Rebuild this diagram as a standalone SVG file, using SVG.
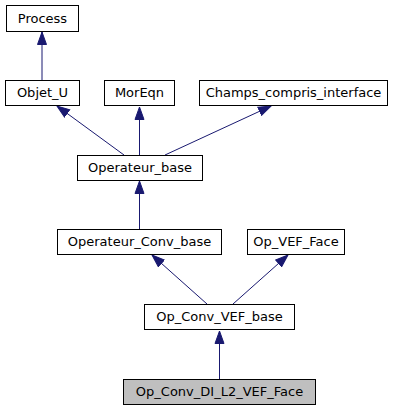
<svg xmlns="http://www.w3.org/2000/svg" width="403" height="411" viewBox="0 0 403 411">
<defs>
<marker id="arr" markerUnits="userSpaceOnUse" markerWidth="14" markerHeight="11" viewBox="0 0 14 11" refX="13" refY="5.5" orient="auto">
<path d="M0.5,1 L13,5.5 L0.5,10 Z" fill="#191970" stroke="#191970" stroke-width="1"/>
</marker>
<style>
.n rect{fill:#ffffff;stroke:#000000;stroke-width:1}
.n.cur rect{fill:#bfbfbf}
.n text{font-family:"DejaVu Sans",sans-serif;font-size:13px;fill:#000000;text-anchor:middle}
.e line{stroke:#191970;stroke-width:1;marker-end:url(#arr)}
</style>
</defs>
<rect width="403" height="411" fill="#ffffff"/>
<g id="edges" class="e">
<line x1="42" y1="80" x2="42" y2="32"/>
<line x1="124" y1="155" x2="57" y2="106"/>
<line x1="139.5" y1="155" x2="139.5" y2="107"/>
<line x1="165" y1="155" x2="271" y2="106"/>
<line x1="139.5" y1="229" x2="139.5" y2="181"/>
<line x1="207" y1="304" x2="152" y2="255"/>
<line x1="233" y1="304" x2="288" y2="255"/>
<line x1="219.5" y1="379" x2="219.5" y2="331"/>
</g>
<g id="node-Process" class="n"><rect x="6.5" y="5.5" width="72" height="26"/><text x="42.5" y="22.5">Process</text></g>
<g id="node-Objet_U" class="n"><rect x="5.5" y="80.5" width="74" height="25"/><text x="42.5" y="97">Objet_U</text></g>
<g id="node-MorEqn" class="n"><rect x="104.5" y="80.5" width="70" height="25"/><text x="139.5" y="97">MorEqn</text></g>
<g id="node-Champs_compris_interface" class="n"><rect x="199.5" y="80.5" width="188" height="25"/><text x="293.5" y="97">Champs_compris_interface</text></g>
<g id="node-Operateur_base" class="n"><rect x="77.5" y="155.5" width="125" height="25"/><text x="140" y="172">Operateur_base</text></g>
<g id="node-Operateur_Conv_base" class="n"><rect x="57.5" y="229.5" width="164" height="25"/><text x="139.5" y="246">Operateur_Conv_base</text></g>
<g id="node-Op_VEF_Face" class="n"><rect x="247.5" y="229.5" width="97" height="25"/><text x="296" y="246">Op_VEF_Face</text></g>
<g id="node-Op_Conv_VEF_base" class="n"><rect x="144.5" y="304.5" width="150" height="25"/><text x="219.5" y="321">Op_Conv_VEF_base</text></g>
<g id="node-Op_Conv_DI_L2_VEF_Face" class="n cur"><rect x="123.5" y="379.5" width="192" height="25"/><text x="219.5" y="396">Op_Conv_DI_L2_VEF_Face</text></g>
</svg>
